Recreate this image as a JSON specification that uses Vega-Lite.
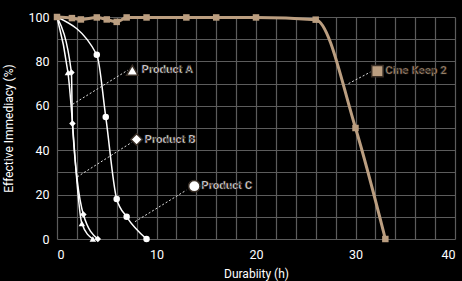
{
  "$schema": "https://vega.github.io/schema/vega-lite/v6.json",
  "width": 398,
  "height": 222,
  "autosize": "none",
  "padding": {"left": 57, "top": 17, "right": 7, "bottom": 42},
  "background": "#000000",
  "config": {
    "view": {"stroke": null},
    "font": "Roboto"
  },
  "datasets": {
    "series": [
      {"series": "Product A", "x": 0, "y": 100},
      {"series": "Product A", "x": 1.1, "y": 75},
      {"series": "Product A", "x": 2.5, "y": 7},
      {"series": "Product A", "x": 3.6, "y": 0},
      {"series": "Product B", "x": 0, "y": 100},
      {"series": "Product B", "x": 1.45, "y": 75},
      {"series": "Product B", "x": 1.55, "y": 52},
      {"series": "Product B", "x": 2.65, "y": 11},
      {"series": "Product B", "x": 4.1, "y": 0},
      {"series": "Product C", "x": 0, "y": 100},
      {"series": "Product C", "x": 4.0, "y": 83},
      {"series": "Product C", "x": 4.9, "y": 55},
      {"series": "Product C", "x": 6.0, "y": 18},
      {"series": "Product C", "x": 7.0, "y": 10},
      {"series": "Product C", "x": 9.0, "y": 0},
      {"series": "Cine Keep 2", "x": 0, "y": 100},
      {"series": "Cine Keep 2", "x": 1.5, "y": 99.5},
      {"series": "Cine Keep 2", "x": 2.4, "y": 98.9},
      {"series": "Cine Keep 2", "x": 4, "y": 99.8},
      {"series": "Cine Keep 2", "x": 5, "y": 98.9},
      {"series": "Cine Keep 2", "x": 6, "y": 97.8},
      {"series": "Cine Keep 2", "x": 7, "y": 99.8},
      {"series": "Cine Keep 2", "x": 9, "y": 99.8},
      {"series": "Cine Keep 2", "x": 13, "y": 99.8},
      {"series": "Cine Keep 2", "x": 16, "y": 99.8},
      {"series": "Cine Keep 2", "x": 20, "y": 99.8},
      {"series": "Cine Keep 2", "x": 26, "y": 98.8},
      {"series": "Cine Keep 2", "x": 30, "y": 50},
      {"series": "Cine Keep 2", "x": 33, "y": 0}
    ],
    "labels": [
      {"series": "Product A", "x": 7.57, "y": 76, "tx": 8.5},
      {"series": "Product B", "x": 8.0, "y": 44.8, "tx": 8.8},
      {"series": "Product C", "x": 13.8, "y": 23.8, "tx": 14.5},
      {"series": "Cine Keep 2", "x": 32.2, "y": 75.6, "tx": 33.0}
    ],
    "leaders": [
      {"series": "Product A", "x": 1.58, "y": 60.7, "x2": 7.1, "y2": 76},
      {"series": "Product B", "x": 2.04, "y": 28, "x2": 7.5, "y2": 43.5},
      {"series": "Product C", "x": 7.84, "y": 7.8, "x2": 13.0, "y2": 22},
      {"series": "Cine Keep 2", "x": 29.3, "y": 70, "x2": 31.5, "y2": 75.2}
    ]
  },
  "encoding": {
    "x": {
      "field": "x", "type": "quantitative",
      "scale": {"domain": [0, 40], "nice": false, "zero": false},
      "axis": {
        "grid": true,
        "gridColor": "#5c5c5c",
        "gridWidth": 1.2,
        "gridOpacity": 1,
        "domain": false,
        "ticks": false,
        "tickCount": 20,
        "labelOverlap": false,
        "labelExpr": "datum.value % 10 === 0 ? datum.label : ''",
        "labelColor": "#ffffff",
        "labelFont": "Roboto",
        "labelFontSize": 12.5,
        "labelPadding": 9,
        "title": "Durabiity (h)",
        "titleColor": "#ffffff",
        "titleFont": "Roboto",
        "titleFontSize": 12,
        "titleFontWeight": "normal",
        "titlePadding": 8
      }
    },
    "y": {
      "field": "y", "type": "quantitative",
      "scale": {"domain": [0, 100], "nice": false},
      "axis": {
        "grid": true,
        "gridColor": "#5c5c5c",
        "gridWidth": 1.2,
        "gridOpacity": 1,
        "domain": false,
        "ticks": false,
        "tickCount": 10,
        "labelOverlap": false,
        "labelExpr": "datum.value % 20 === 0 ? datum.label : ''",
        "labelColor": "#ffffff",
        "labelFont": "Roboto",
        "labelFontSize": 12.5,
        "labelPadding": 8,
        "title": "Effective Immediacy (%)",
        "titleColor": "#ffffff",
        "titleFont": "Roboto",
        "titleFontSize": 12,
        "titleFontWeight": "normal",
        "titlePadding": 12
      }
    }
  },
  "layer": [
    {
      "data": {"name": "leaders"},
      "mark": {"type": "rule", "color": "#dddddd", "strokeWidth": 1, "strokeDash": [2, 2]},
      "encoding": {
        "x2": {"field": "x2"},
        "y2": {"field": "y2"}
      }
    },
    {
      "data": {"name": "series"},
      "transform": [{"filter": "datum.series !== 'Cine Keep 2'"}],
      "mark": {"type": "line", "interpolate": "monotone", "color": "#ffffff", "strokeWidth": 1.5},
      "encoding": {
        "detail": {"field": "series"}
      }
    },
    {
      "data": {"name": "series"},
      "transform": [{"filter": "datum.series === 'Cine Keep 2'"}],
      "mark": {"type": "line", "interpolate": "monotone", "color": "#bb9e80", "strokeWidth": 3},
      "encoding": {}
    },
    {
      "data": {"name": "series"},
      "transform": [{"filter": "datum.x > 0 || datum.series === 'Cine Keep 2'"}],
      "mark": {"type": "point", "filled": true, "opacity": 1, "size": 42},
      "encoding": {
        "shape": {
          "field": "series", "type": "nominal",
          "scale": {"domain": ["Product A", "Product B", "Product C", "Cine Keep 2"], "range": ["triangle-up", "diamond", "circle", "square"]},
          "legend": null
        },
        "color": {
          "field": "series", "type": "nominal",
          "scale": {"domain": ["Product A", "Product B", "Product C", "Cine Keep 2"], "range": ["#ffffff", "#ffffff", "#ffffff", "#bb9e80"]},
          "legend": null
        }
      }
    },
    {
      "data": {"name": "labels"},
      "mark": {"type": "point", "filled": true, "opacity": 1, "size": 130, "stroke": "#3a2f26", "strokeWidth": 1.5},
      "encoding": {
        "shape": {"field": "series", "type": "nominal", "legend": null},
        "color": {"field": "series", "type": "nominal", "legend": null}
      }
    },
    {
      "data": {"name": "labels"},
      "mark": {"type": "text", "align": "left", "baseline": "middle", "fontSize": 11.5, "fontWeight": "bold", "font": "Roboto", "stroke": "#2e261f", "strokeWidth": 0.6},
      "encoding": {
        "x": {"field": "tx", "type": "quantitative"},
        "text": {"field": "series"},
        "color": {"field": "series", "type": "nominal", "legend": null}
      }
    }
  ]
}
